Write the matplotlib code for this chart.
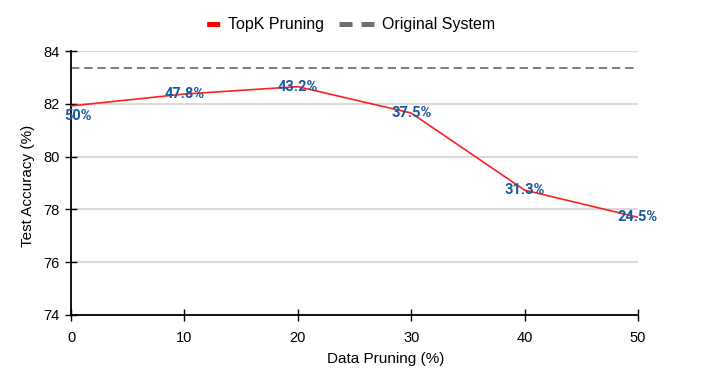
import matplotlib as mpl
import matplotlib.pyplot as plt
import numpy as np

plt.rcParams['font.family'] = ['Liberation Sans', 'DejaVu Sans']
plt.rcParams['lines.scale_dashes'] = False

pruning = [0, 10, 20, 30, 40, 50]
accuracy = [81.92, 82.37, 82.65, 81.65, 78.73, 77.70]
kept_labels = ['50%', '47.8%', '43.2%', '37.5%', '31.3%', '24.5%']
original_acc = 83.36

fig = plt.figure(figsize=(7.06, 3.77), dpi=100)
ax = fig.add_axes([0.1006, 0.1645, 0.8031, 0.7002])

ax.plot(pruning, accuracy, color='#ff2020', linewidth=1.2, label='TopK Pruning', zorder=3)
ax.axhline(original_acc, color='#666666', linestyle=(0, (6, 3.5)), linewidth=1.2,
           label='Original System', zorder=2)

for i, (x, y, t) in enumerate(zip(pruning, accuracy, kept_labels)):
    offset = (5, -7) if i == 0 else (0, 0)
    ax.annotate(t, (x, y), xytext=offset, textcoords='offset points',
                ha='center', va='center', fontsize=10.5, fontweight='bold',
                color='#1b5a9a', family=['Roboto', 'DejaVu Sans'], zorder=4,
                annotation_clip=False)

ax.set_xlim(0, 50)
ax.set_ylim(74, 84)
ax.set_xticks([0, 10, 20, 30, 40, 50])
ax.set_yticks([74, 76, 78, 80, 82, 84])
ax.yaxis.grid(True, color='#dadada', linewidth=1.5)
ax.set_axisbelow(True)
ax.tick_params(direction='inout', length=8.5, width=1, labelsize=10.5, colors='black')
ax.tick_params(axis='x', pad=7.5)
ax.tick_params(axis='y', pad=4)
for s in ['top', 'right']:
    ax.spines[s].set_visible(False)
for s in ['left', 'bottom']:
    ax.spines[s].set_linewidth(1.3)

ax.set_xlabel('Data Pruning (%)', fontsize=11, va='top')
ax.set_ylabel('Test Accuracy (%)', fontsize=11)
ax.xaxis.set_label_coords(0.5556, -0.139)
ax.yaxis.set_label_coords(-0.063, 0.489)

# legend: short red bar, gray dashed pair
red_handle = mpl.lines.Line2D([], [], color='#ff0000', linewidth=3.6,
                              linestyle=(55.8, (9.4, 62)))
gray_handle = mpl.lines.Line2D([], [], color='#6e6e6e', linewidth=3.6,
                               linestyle=(0, (9.4, 6.5)))
fig.legend([red_handle, gray_handle], ['TopK Pruning', 'Original System'],
           loc='center', bbox_to_anchor=(0.4823, 0.934), ncol=2, frameon=False,
           fontsize=11.5, handlelength=2.19, columnspacing=0.94, handletextpad=0.5)

plt.savefig('out.png', dpi=100)
